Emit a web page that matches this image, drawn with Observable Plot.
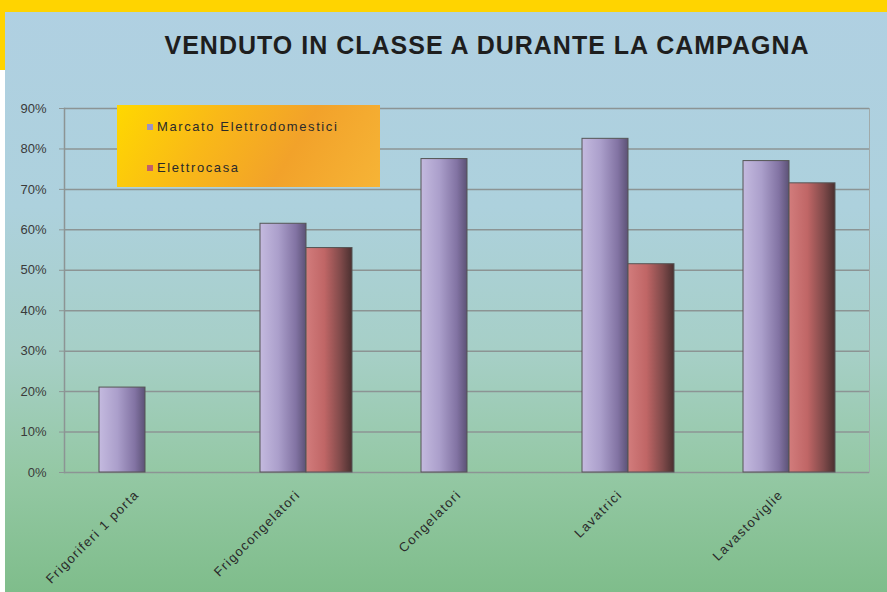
<!DOCTYPE html>
<html><head><meta charset="utf-8">
<script src="https://cdn.jsdelivr.net/npm/d3@7"></script>
<script src="https://cdn.jsdelivr.net/npm/@observablehq/plot@0.6"></script>
<style>
body{margin:0;background:#fff;}
#wrap{position:relative;width:887px;height:592px;overflow:hidden;font-family:"Liberation Sans",Arial,sans-serif;background:#fff;}
#bg{position:absolute;left:5px;top:0;right:0;bottom:0;background:linear-gradient(180deg,#b0d0e2 0%,#add1dd 35%,#a6cfc6 60%,#94c8a4 80%,#7fbd8b 100%);}
#ytop{position:absolute;left:0;top:0;width:887px;height:12px;background:#ffd400;}
#yleft{position:absolute;left:0;top:0;width:5px;height:70px;background:#ffd400;}
#title{position:absolute;left:0;top:31px;width:974px;text-align:center;font-weight:bold;font-size:25px;color:#1e1e1e;letter-spacing:1px;}
#chart{position:absolute;left:0;top:80px;}
#legend{position:absolute;left:117px;top:105px;width:263px;height:82px;background:linear-gradient(120deg,#ffd800 0%,#f9b818 35%,#f2a22a 65%,#f6b436 100%);}
.li{position:absolute;left:30px;font-size:13px;color:#2a2a2a;letter-spacing:1.6px;white-space:nowrap;line-height:16px;}
.li span.sw{display:inline-block;width:6px;height:6px;margin-right:4px;vertical-align:middle;position:relative;top:-1px;}
g[aria-label="fx-axis tick label"] text{letter-spacing:1.4px;}
</style></head><body>
<div id="wrap">
 <div id="bg"></div>
 <div id="ytop"></div><div id="yleft"></div>
 <div id="title">VENDUTO IN CLASSE A DURANTE LA CAMPAGNA</div>
 <div id="chart"></div>
 <div id="legend"></div>
</div>
<script>
const categories = ["Frigoriferi 1 porta", "Frigocongelatori", "Congelatori", "Lavatrici", "Lavastoviglie"];
const series = ["Marcato Elettrodomestici", "Elettrocasa"];
const marcatoValues = [21, 61.5, 77.5, 82.5, 77];
const elettrocasaValues = [null, 55.5, null, 51.5, 71.5];
const yTicks = [0, 10, 20, 30, 40, 50, 60, 70, 80, 90];
const swatchColors = ["#9c92c4", "#c0606c"];

const rows = [];
categories.forEach((c, i) => {
  if (marcatoValues[i] != null) rows.push({category: c, series: series[0], value: marcatoValues[i]});
  if (elettrocasaValues[i] != null) rows.push({category: c, series: series[1], value: elettrocasaValues[i]});
});

function gradDefs() {
  const defs = d3.create("svg:defs");
  const g1 = defs.append("linearGradient").attr("id", "gp").attr("x1", 0).attr("x2", 1).attr("y1", 0).attr("y2", 0);
  [["0%", "#c4badf"], ["40%", "#ab9fcb"], ["78%", "#8273a3"], ["100%", "#5c5276"]].forEach(([o, c]) => g1.append("stop").attr("offset", o).attr("stop-color", c));
  const g2 = defs.append("linearGradient").attr("id", "gr").attr("x1", 0).attr("x2", 1).attr("y1", 0).attr("y2", 0);
  [["0%", "#d27c7c"], ["40%", "#c06666"], ["75%", "#804a4a"], ["100%", "#4a3030"]].forEach(([o, c]) => g2.append("stop").attr("offset", o).attr("stop-color", c));
  return defs.node();
}

const chart = Plot.plot({
  width: 887,
  height: 512,
  marginTop: 28,
  marginBottom: 120,
  marginLeft: 63,
  marginRight: 17,
  style: {background: "transparent", fontFamily: "Liberation Sans, Arial, sans-serif", overflow: "visible"},
  fx: {domain: categories, padding: 0},
  x: {domain: series, paddingInner: 0, paddingOuter: 0.75, axis: null},
  y: {domain: [0, 90], axis: null},
  marks: [
    gradDefs,
    Plot.gridY(yTicks, {stroke: "#8c9494", strokeOpacity: 1, strokeWidth: 1.5}),
    Plot.frame({anchor: "left", facetAnchor: "left", stroke: "#8c9494", strokeWidth: 1.5}),
    Plot.frame({anchor: "right", facetAnchor: "right", stroke: "#a0aaaa", strokeWidth: 1}),
    Plot.barY(rows.filter(d => d.series === series[0]), {fx: "category", x: "series", y: "value", fill: "url(#gp)", stroke: "#555", strokeWidth: 1}),
    Plot.barY(rows.filter(d => d.series === series[1]), {fx: "category", x: "series", y: "value", fill: "url(#gr)", stroke: "#555", strokeWidth: 1}),
    Plot.axisY(yTicks, {tickFormat: d => d + "%", tickSize: 5, tickPadding: 13, fontSize: 13, stroke: "#8c9494", fill: "#3a3a3a", label: null}),
    Plot.axisFx({anchor: "bottom", tickRotate: -45, tickSize: 0, tickPadding: 14, dx: -8, dy: 6, fontSize: 13, fill: "#2a2a2a", label: null})
  ]
});
document.getElementById("chart").appendChild(chart);

const legend = document.getElementById("legend");
series.forEach((s, i) => {
  const div = document.createElement("div");
  div.className = "li";
  div.style.top = (14 + i * 41) + "px";
  const sw = document.createElement("span");
  sw.className = "sw";
  sw.style.background = swatchColors[i];
  div.appendChild(sw);
  div.appendChild(document.createTextNode(s));
  legend.appendChild(div);
});
</script>
</body></html>
